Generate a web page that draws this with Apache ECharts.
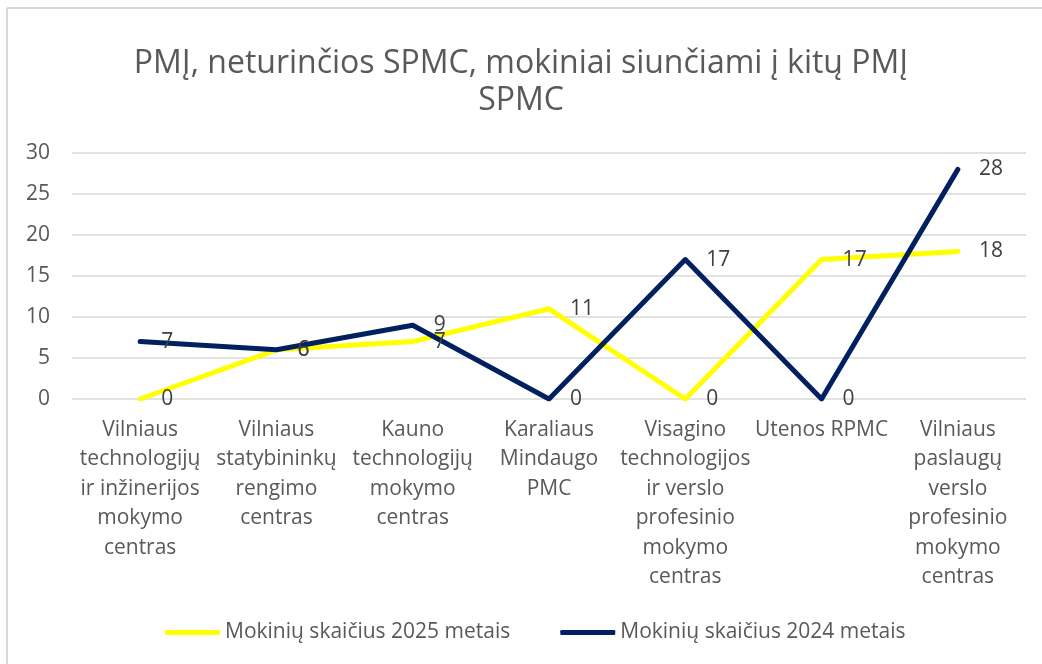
<!DOCTYPE html>
<html>
<head>
<meta charset="utf-8">
<script src="https://cdn.jsdelivr.net/npm/echarts@6/dist/echarts.min.js"></script>
<style>
  html, body { margin: 0; padding: 0; background: #fff; }
  #chart { width: 1042px; height: 664px; }
</style>
</head>
<body>
<div id="chart"></div>
<script>
  // data
  const categories = [
    'Vilniaus\ntechnologijų\nir inžinerijos\nmokymo\ncentras',
    'Vilniaus\nstatybininkų\nrengimo\ncentras',
    'Kauno\ntechnologijų\nmokymo\ncentras',
    'Karaliaus\nMindaugo\nPMC',
    'Visagino\ntechnologijos\nir verslo\nprofesinio\nmokymo\ncentras',
    'Utenos RPMC',
    'Vilniaus\npaslaugų\nverslo\nprofesinio\nmokymo\ncentras'
  ];
  const values2025 = [0, 6, 7, 11, 0, 17, 18];
  const values2024 = [7, 6, 9, 0, 17, 0, 28];
  const seriesNames = ['Mokinių skaičius 2025 metais', 'Mokinių skaičius 2024 metais'];
  const yTicks = { min: 0, max: 30, interval: 5 };

  const font = 'Open Sans, Noto Sans, sans-serif';
  const chart = echarts.init(document.getElementById('chart'));

  const lineLabel = {
    show: true,
    position: 'right',
    distance: 21,
    color: '#404040',
    fontSize: 21,
    fontFamily: font
  };

  chart.setOption({
    animation: false,
    textStyle: { fontFamily: font },
    title: {
      text: 'PMĮ, neturinčios SPMC, mokiniai siunčiami į kitų PMĮ\nSPMC',
      left: 'center',
      top: 40,
      textStyle: {
        fontSize: 32,
        fontWeight: 'normal',
        color: '#595959',
        lineHeight: 37,
        fontFamily: font
      }
    },
    legend: {
      bottom: 16,
      left: 160,
      itemWidth: 55,
      itemHeight: 5,
      itemGap: 50,
      icon: 'roundRect',
      textStyle: { fontSize: 21, color: '#595959', fontFamily: font },
      data: seriesNames
    },
    graphic: [
      { type: 'line', shape: { x1: 7, y1: 8, x2: 1042, y2: 8 }, style: { stroke: '#d9d9d9', lineWidth: 2 } },
      { type: 'line', shape: { x1: 7, y1: 8, x2: 7, y2: 664 }, style: { stroke: '#d9d9d9', lineWidth: 2 } }
    ],
    grid: { left: 72, right: 16, top: 153, bottom: 265 },
    xAxis: {
      type: 'category',
      data: categories,
      boundaryGap: true,
      axisLine: { show: false },
      axisTick: { show: false },
      axisLabel: {
        interval: 0,
        margin: 16,
        fontSize: 21,
        lineHeight: 29.5,
        color: '#595959',
        fontFamily: font,
        verticalAlign: 'top'
      }
    },
    yAxis: {
      type: 'value',
      min: yTicks.min,
      max: yTicks.max,
      interval: yTicks.interval,
      axisLine: { show: false },
      axisTick: { show: false },
      axisLabel: { fontSize: 21, color: '#595959', margin: 22, fontFamily: font },
      splitLine: { lineStyle: { color: '#d9d9d9', width: 1.5 } }
    },
    series: [
      {
        name: seriesNames[0],
        type: 'line',
        data: values2025,
        symbol: 'circle',
        symbolSize: 0.1,
        lineStyle: { color: '#ffff00', width: 5, cap: 'round', join: 'round' },
        itemStyle: { color: '#ffff00' },
        label: lineLabel
      },
      {
        name: seriesNames[1],
        type: 'line',
        data: values2024,
        symbol: 'circle',
        symbolSize: 0.1,
        lineStyle: { color: '#002060', width: 5, cap: 'round', join: 'round' },
        itemStyle: { color: '#002060' },
        label: lineLabel
      }
    ]
  });
</script>
</body>
</html>
